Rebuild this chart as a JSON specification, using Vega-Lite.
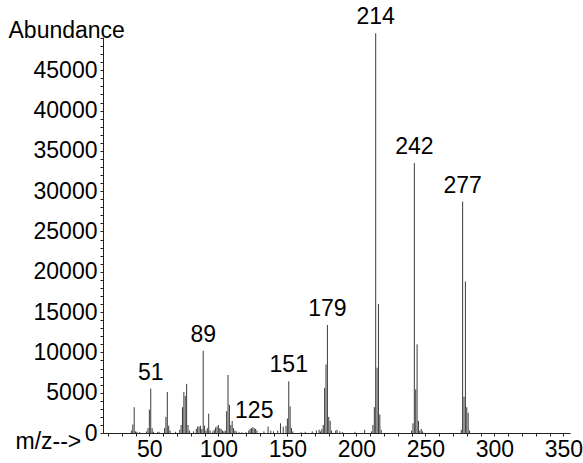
{
  "$schema": "https://vega.github.io/schema/vega-lite/v6.json",
  "width": 467,
  "height": 396,
  "autosize": {"type": "none"},
  "padding": {"left": 103, "top": 37, "right": 13, "bottom": 30},
  "background": "white",
  "config": {
    "view": {"stroke": null},
    "font": "Liberation Sans",
    "axis": {"grid": false, "domainColor": "#222", "tickColor": "#222", "labelColor": "#000", "titleColor": "#000", "labelFont": "Liberation Sans", "titleFont": "Liberation Sans", "labelFontSize": 23, "titleFontSize": 23, "titleFontWeight": "normal", "labelOverlap": false}
  },
  "datasets": {
    "peaks": [
      {"mz": 37, "abundance": 300}, {"mz": 38, "abundance": 1050}, {"mz": 39, "abundance": 3200}, {"mz": 40, "abundance": 200}, {"mz": 41, "abundance": 150}, {"mz": 43, "abundance": 100},
      {"mz": 48, "abundance": 200}, {"mz": 49, "abundance": 600}, {"mz": 50, "abundance": 2900}, {"mz": 51, "abundance": 5500}, {"mz": 52, "abundance": 600}, {"mz": 53, "abundance": 150},
      {"mz": 56, "abundance": 100}, {"mz": 57, "abundance": 150}, {"mz": 61, "abundance": 600}, {"mz": 62, "abundance": 2000}, {"mz": 63, "abundance": 5100}, {"mz": 64, "abundance": 900}, {"mz": 65, "abundance": 300},
      {"mz": 69, "abundance": 150}, {"mz": 72, "abundance": 400}, {"mz": 73, "abundance": 1000}, {"mz": 74, "abundance": 3200}, {"mz": 75, "abundance": 5100}, {"mz": 76, "abundance": 4600}, {"mz": 77, "abundance": 6100}, {"mz": 78, "abundance": 1000}, {"mz": 79, "abundance": 300},
      {"mz": 82, "abundance": 200}, {"mz": 84, "abundance": 500}, {"mz": 85, "abundance": 800}, {"mz": 86, "abundance": 800}, {"mz": 87, "abundance": 900}, {"mz": 88, "abundance": 500}, {"mz": 89, "abundance": 10200}, {"mz": 90, "abundance": 900}, {"mz": 91, "abundance": 300},
      {"mz": 92, "abundance": 600}, {"mz": 93, "abundance": 2400}, {"mz": 94, "abundance": 300}, {"mz": 96, "abundance": 200}, {"mz": 97, "abundance": 400}, {"mz": 98, "abundance": 700}, {"mz": 99, "abundance": 800}, {"mz": 100, "abundance": 1000}, {"mz": 101, "abundance": 600}, {"mz": 102, "abundance": 500}, {"mz": 103, "abundance": 300}, {"mz": 104, "abundance": 200},
      {"mz": 105, "abundance": 300}, {"mz": 106, "abundance": 2700}, {"mz": 107, "abundance": 7200}, {"mz": 108, "abundance": 3500}, {"mz": 109, "abundance": 1000}, {"mz": 110, "abundance": 1500}, {"mz": 111, "abundance": 600}, {"mz": 112, "abundance": 300}, {"mz": 113, "abundance": 200},
      {"mz": 115, "abundance": 100}, {"mz": 117, "abundance": 100}, {"mz": 120, "abundance": 100}, {"mz": 122, "abundance": 300}, {"mz": 123, "abundance": 500}, {"mz": 124, "abundance": 600}, {"mz": 125, "abundance": 700}, {"mz": 126, "abundance": 600}, {"mz": 127, "abundance": 500}, {"mz": 128, "abundance": 300},
      {"mz": 133, "abundance": 200}, {"mz": 136, "abundance": 800}, {"mz": 138, "abundance": 300}, {"mz": 140, "abundance": 200}, {"mz": 143, "abundance": 300}, {"mz": 145, "abundance": 1200}, {"mz": 147, "abundance": 800}, {"mz": 149, "abundance": 900}, {"mz": 150, "abundance": 1800}, {"mz": 151, "abundance": 6400}, {"mz": 152, "abundance": 3300}, {"mz": 153, "abundance": 600}, {"mz": 154, "abundance": 200},
      {"mz": 160, "abundance": 100}, {"mz": 163, "abundance": 150}, {"mz": 168, "abundance": 200}, {"mz": 171, "abundance": 300}, {"mz": 173, "abundance": 400}, {"mz": 174, "abundance": 200}, {"mz": 175, "abundance": 500}, {"mz": 176, "abundance": 1000}, {"mz": 177, "abundance": 5600}, {"mz": 178, "abundance": 8500}, {"mz": 179, "abundance": 13400}, {"mz": 180, "abundance": 2000}, {"mz": 181, "abundance": 1500}, {"mz": 182, "abundance": 300},
      {"mz": 185, "abundance": 300}, {"mz": 186, "abundance": 400}, {"mz": 188, "abundance": 200}, {"mz": 190, "abundance": 100}, {"mz": 199, "abundance": 150}, {"mz": 206, "abundance": 400},
      {"mz": 211, "abundance": 200}, {"mz": 212, "abundance": 1000}, {"mz": 213, "abundance": 3200}, {"mz": 214, "abundance": 49600}, {"mz": 215, "abundance": 8100}, {"mz": 216, "abundance": 16000}, {"mz": 217, "abundance": 2300}, {"mz": 218, "abundance": 400},
      {"mz": 240, "abundance": 300}, {"mz": 241, "abundance": 1200}, {"mz": 242, "abundance": 33500}, {"mz": 243, "abundance": 5400}, {"mz": 244, "abundance": 11000}, {"mz": 245, "abundance": 1500}, {"mz": 246, "abundance": 300}, {"mz": 247, "abundance": 500}, {"mz": 248, "abundance": 200},
      {"mz": 276, "abundance": 400}, {"mz": 277, "abundance": 28700}, {"mz": 278, "abundance": 4500}, {"mz": 279, "abundance": 18800}, {"mz": 280, "abundance": 3200}, {"mz": 281, "abundance": 2500}, {"mz": 282, "abundance": 300}
    ],
    "labels": [
      {"mz": 51, "abundance": 5500, "label": "51"},
      {"mz": 89, "abundance": 10200, "label": "89"},
      {"mz": 126, "abundance": 700, "label": "125"},
      {"mz": 151, "abundance": 6400, "label": "151"},
      {"mz": 179, "abundance": 13400, "label": "179"},
      {"mz": 214, "abundance": 49600, "label": "214"},
      {"mz": 242, "abundance": 33500, "label": "242"},
      {"mz": 277, "abundance": 28700, "label": "277"}
    ]
  },
  "encoding": {
    "x": {
      "field": "mz", "type": "quantitative",
      "scale": {"domain": [16.4, 354.8], "nice": false, "zero": false},
      "axis": {
        "values": [20, 30, 40, 50, 60, 70, 80, 90, 100, 110, 120, 130, 140, 150, 160, 170, 180, 190, 200, 210, 220, 230, 240, 250, 260, 270, 280, 290, 300, 310, 320, 330, 340, 350],
        "labelExpr": "datum.value % 50 == 0 ? datum.label : ''",
        "tickSize": 3, "labelPadding": 2, "labelFlush": false, "labelOverlap": false,
        "title": "m/z-->", "titleAlign": "left", "titleAnchor": "start", "titleX": -88, "titleY": 8, "titleBaseline": "middle"
      }
    },
    "y": {
      "field": "abundance", "type": "quantitative",
      "scale": {"domain": [0, 49130], "nice": false},
      "axis": {
        "values": [0, 1000, 2000, 3000, 4000, 5000, 6000, 7000, 8000, 9000, 10000, 11000, 12000, 13000, 14000, 15000, 16000, 17000, 18000, 19000, 20000, 21000, 22000, 23000, 24000, 25000, 26000, 27000, 28000, 29000, 30000, 31000, 32000, 33000, 34000, 35000, 36000, 37000, 38000, 39000, 40000, 41000, 42000, 43000, 44000, 45000, 46000, 47000, 48000, 49000],
        "labelExpr": "datum.value % 5000 == 0 ? format(datum.value, 'd') : ''",
        "tickSize": 3, "labelPadding": 3, "labelOverlap": false, "labelFlush": false,
        "title": "Abundance", "titleAngle": 0, "titleAlign": "left", "titleAnchor": "end", "titleX": -95, "titleY": -7, "titleBaseline": "middle"
      }
    }
  },
  "layer": [
    {
      "data": {"name": "peaks"},
      "mark": {"type": "rule", "color": "#3a3a3a", "strokeWidth": 1},
      "encoding": {
        "y2": {"datum": 0}
      }
    },
    {
      "data": {"name": "labels"},
      "mark": {"type": "text", "fontSize": 23, "font": "Liberation Sans", "color": "#000", "baseline": "alphabetic", "align": "center", "dy": -9},
      "encoding": {
        "text": {"field": "label"}
      }
    }
  ]
}
